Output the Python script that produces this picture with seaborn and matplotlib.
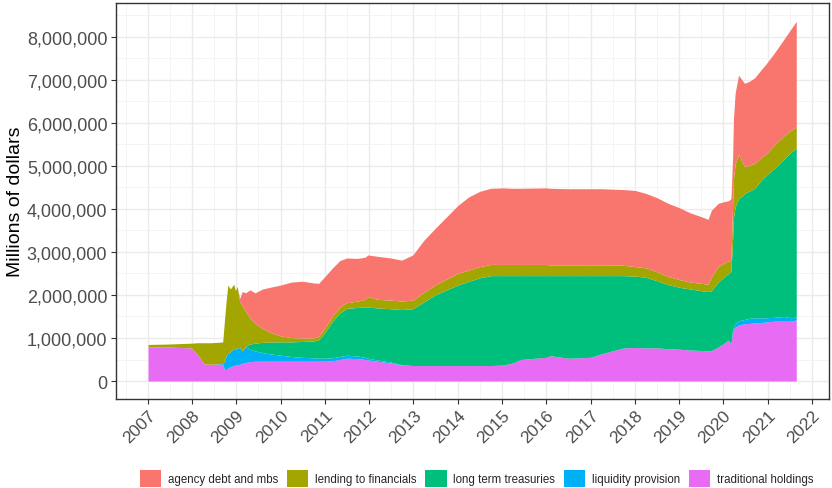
import pandas as pd

import matplotlib
matplotlib.use("Agg")

import matplotlib.pyplot as plt
import matplotlib.dates as mdates
from matplotlib.patches import Patch
from matplotlib.ticker import FuncFormatter, MultipleLocator

import seaborn as sns


# ==========================
# DATA (trillions of dollars)
# ==========================

dates = [
    "2007-01-03", "2007-06-27", "2007-12-26", "2008-02-13", "2008-04-09",
    "2008-06-04", "2008-08-06", "2008-09-10", "2008-09-24", "2008-10-08",
    "2008-10-22", "2008-11-12", "2008-12-10", "2008-12-24", "2009-01-07",
    "2009-01-28", "2009-02-18", "2009-03-18", "2009-04-22", "2009-06-03",
    "2009-08-05", "2009-10-07", "2009-12-30", "2010-03-31", "2010-06-30",
    "2010-09-29", "2010-11-10", "2010-12-29", "2011-03-02", "2011-05-04",
    "2011-06-29", "2011-09-28", "2011-11-30", "2011-12-21", "2012-03-07",
    "2012-06-27", "2012-09-26", "2012-12-26", "2013-03-27", "2013-07-03",
    "2013-10-02", "2014-01-01", "2014-04-02", "2014-07-02", "2014-10-01",
    "2015-01-07", "2015-04-01", "2015-06-03", "2015-12-30", "2016-02-03",
    "2016-06-29", "2016-12-28", "2017-03-29", "2017-06-28", "2017-10-04",
    "2018-01-03", "2018-04-04", "2018-07-04", "2018-10-03", "2019-01-02",
    "2019-04-03", "2019-07-03", "2019-08-28", "2019-09-25", "2019-11-20",
    "2020-01-08", "2020-02-12", "2020-03-04", "2020-03-18", "2020-03-25",
    "2020-04-08", "2020-05-06", "2020-06-03", "2020-06-24", "2020-08-05",
    "2020-09-16", "2020-11-04", "2020-12-16", "2021-02-24", "2021-05-19",
    "2021-07-14", "2021-08-25",
]

traditional_holdings = [
    0.79, 0.79, 0.77, 0.62, 0.40, 0.39, 0.39, 0.39, 0.27, 0.27,
    0.30, 0.33, 0.36, 0.37, 0.38, 0.39, 0.41, 0.43, 0.45, 0.46,
    0.46, 0.46, 0.46, 0.46, 0.46, 0.46, 0.46, 0.46, 0.47, 0.50,
    0.53, 0.52, 0.50, 0.49, 0.46, 0.42, 0.37, 0.36, 0.36, 0.36,
    0.36, 0.36, 0.36, 0.36, 0.36, 0.37, 0.42, 0.50, 0.55, 0.59,
    0.53, 0.55, 0.63, 0.70, 0.77, 0.78, 0.77, 0.77, 0.75, 0.74,
    0.72, 0.71, 0.70, 0.71, 0.79, 0.88, 0.95, 0.85, 1.15, 1.20,
    1.25, 1.30, 1.32, 1.33, 1.34, 1.35, 1.36, 1.37, 1.39, 1.39,
    1.39, 1.42,
]

liquidity_provision = [
    0.00, 0.00, 0.00, 0.00, 0.00, 0.00, 0.01, 0.02, 0.18, 0.32,
    0.34, 0.35, 0.40, 0.37, 0.39, 0.39, 0.29, 0.37, 0.29, 0.24,
    0.20, 0.17, 0.14, 0.11, 0.09, 0.08, 0.07, 0.07, 0.07, 0.07,
    0.07, 0.06, 0.05, 0.04, 0.03, 0.02, 0.01, 0.00, 0.00, 0.00,
    0.00, 0.00, 0.00, 0.00, 0.00, 0.00, 0.00, 0.00, 0.00, 0.00,
    0.00, 0.00, 0.00, 0.00, 0.00, 0.00, 0.00, 0.00, 0.00, 0.00,
    0.00, 0.00, 0.00, 0.00, 0.00, 0.00, 0.00, 0.00, 0.05, 0.06,
    0.08, 0.10, 0.10, 0.10, 0.12, 0.12, 0.11, 0.10, 0.09, 0.11,
    0.08, 0.07,
]

long_term_treasuries = [
    0.00, 0.00, 0.00, 0.00, 0.00, 0.00, 0.00, 0.00, 0.00, 0.00,
    0.00, 0.00, 0.00, 0.00, 0.00, 0.00, 0.00, 0.01, 0.12, 0.18,
    0.24, 0.28, 0.31, 0.34, 0.37, 0.39, 0.43, 0.59, 0.84, 1.01,
    1.09, 1.13, 1.17, 1.19, 1.21, 1.24, 1.28, 1.32, 1.48, 1.65,
    1.76, 1.87, 1.96, 2.04, 2.09, 2.08, 2.03, 1.95, 1.90, 1.86,
    1.92, 1.90, 1.82, 1.75, 1.68, 1.66, 1.64, 1.56, 1.49, 1.44,
    1.42, 1.39, 1.38, 1.39, 1.51, 1.54, 1.55, 1.70, 2.10, 2.54,
    2.72, 2.84, 2.88, 2.93, 2.96, 3.01, 3.18, 3.30, 3.46, 3.67,
    3.85, 3.92,
]

lending_to_financials = [
    0.06, 0.07, 0.11, 0.27, 0.49, 0.50, 0.50, 0.50, 0.95, 1.26,
    1.59, 1.46, 1.49, 1.36, 1.43, 1.06, 1.06, 0.81, 0.61, 0.46,
    0.32, 0.22, 0.14, 0.10, 0.08, 0.07, 0.08, 0.10, 0.12, 0.14,
    0.13, 0.15, 0.18, 0.24, 0.20, 0.20, 0.20, 0.20, 0.22, 0.23,
    0.25, 0.27, 0.26, 0.26, 0.26, 0.26, 0.26, 0.26, 0.26, 0.25,
    0.25, 0.25, 0.25, 0.25, 0.24, 0.22, 0.22, 0.21, 0.19, 0.18,
    0.16, 0.17, 0.17, 0.32, 0.36, 0.32, 0.29, 0.25, 0.80, 0.90,
    1.00, 1.03, 0.80, 0.62, 0.60, 0.58, 0.53, 0.50, 0.54, 0.54,
    0.51, 0.50,
]

agency_debt_and_mbs = [
    0.00, 0.00, 0.00, 0.00, 0.00, 0.00, 0.00, 0.00, 0.00, 0.00,
    0.00, 0.00, 0.00, 0.00, 0.00, 0.08, 0.32, 0.43, 0.65, 0.71,
    0.92, 1.05, 1.18, 1.29, 1.32, 1.28, 1.23, 1.20, 1.12, 1.08,
    1.04, 0.99, 0.98, 0.97, 1.00, 0.98, 0.95, 1.05, 1.21, 1.32,
    1.45, 1.58, 1.70, 1.75, 1.77, 1.78, 1.77, 1.77, 1.78, 1.78,
    1.77, 1.77, 1.77, 1.76, 1.76, 1.77, 1.73, 1.72, 1.70, 1.67,
    1.61, 1.55, 1.51, 1.55, 1.47, 1.43, 1.40, 1.44, 1.10, 1.40,
    1.65, 1.84, 1.90, 1.94, 1.95, 1.99, 2.04, 2.09, 2.14, 2.25,
    2.36, 2.45,
]

# bottom -> top stacking order
series_names = [
    "traditional holdings",
    "liquidity provision",
    "long term treasuries",
    "lending to financials",
    "agency debt and mbs",
]

colors = {
    "agency debt and mbs": "#F8766D",
    "lending to financials": "#A3A500",
    "long term treasuries": "#00BF7D",
    "liquidity provision": "#00B0F6",
    "traditional holdings": "#E76BF3",
}

legend_order = [
    "agency debt and mbs",
    "lending to financials",
    "long term treasuries",
    "liquidity provision",
    "traditional holdings",
]


# ==========================
# FRAME
# ==========================

df = pd.DataFrame({
    "date": pd.to_datetime(dates),
    "traditional holdings": traditional_holdings,
    "liquidity provision": liquidity_provision,
    "long term treasuries": long_term_treasuries,
    "lending to financials": lending_to_financials,
    "agency debt and mbs": agency_debt_and_mbs,
})

# millions of dollars
for name in series_names:
    df[name] = df[name] * 1e6


# ==========================
# PLOT
# ==========================

sns.set_theme(style="white")
plt.rcParams["font.family"] = ["Liberation Sans", "DejaVu Sans"]

fig = plt.figure(figsize=(8.32, 4.89), dpi=100)
ax = fig.add_axes([0.139, 0.182, 0.857, 0.809])

ax.stackplot(
    df["date"],
    [df[name] for name in series_names],
    colors=[colors[name] for name in series_names],
    linewidth=0,
    zorder=2,
)

# ggplot-style 5% expansion
x0 = mdates.date2num(df["date"].min())
x1 = mdates.date2num(df["date"].max())
pad = (x1 - x0) * 0.05
ax.set_xlim(x0 - pad, x1 + pad)

total = df[series_names].sum(axis=1).max()
ax.set_ylim(-total * 0.05, total * 1.05)

ax.xaxis.set_major_locator(mdates.YearLocator(1))
ax.xaxis.set_major_formatter(mdates.DateFormatter("%Y"))
ax.xaxis.set_minor_locator(mdates.MonthLocator(bymonth=7))

ax.yaxis.set_major_locator(MultipleLocator(1e6))
ax.yaxis.set_minor_locator(MultipleLocator(5e5))
ax.yaxis.set_major_formatter(
    FuncFormatter(lambda v, p: f"{v:,.0f}")
)

ax.grid(which="major", color="#EBEBEB", linewidth=1.0, zorder=0)
ax.grid(which="minor", color="#F2F2F2", linewidth=0.6, zorder=0)
ax.set_axisbelow(True)

for side in ax.spines.values():
    side.set_color("#333333")
    side.set_linewidth(1.0)

ax.tick_params(
    which="major",
    length=3.5,
    width=0.8,
    color="#333333",
    labelcolor="#4D4D4D",
    labelsize=13,
    bottom=True,
    left=True,
    pad=2.5,
)
ax.tick_params(which="minor", length=0)
ax.tick_params(axis="x", labelsize=12.5)

for label in ax.get_xticklabels():
    label.set_rotation(45)
    label.set_horizontalalignment("right")
    label.set_verticalalignment("top")
    label.set_rotation_mode("anchor")

ax.set_xlabel("")
ax.set_ylabel("Millions of dollars", fontsize=14, color="black")
ax.yaxis.set_label_coords(-0.128, 0.5)

handles = [
    Patch(facecolor=colors[name], edgecolor="none", label=name)
    for name in legend_order
]

fig.legend(
    handles=handles,
    loc="center",
    bbox_to_anchor=(0.573, 0.02),
    ncol=5,
    frameon=False,
    fontsize=8.3,
    handlelength=1.85,
    handleheight=1.85,
    handletextpad=0.6,
    columnspacing=0.75,
    borderpad=0.2,
)

fig.savefig("out.png", dpi=100)
plt.close(fig)
